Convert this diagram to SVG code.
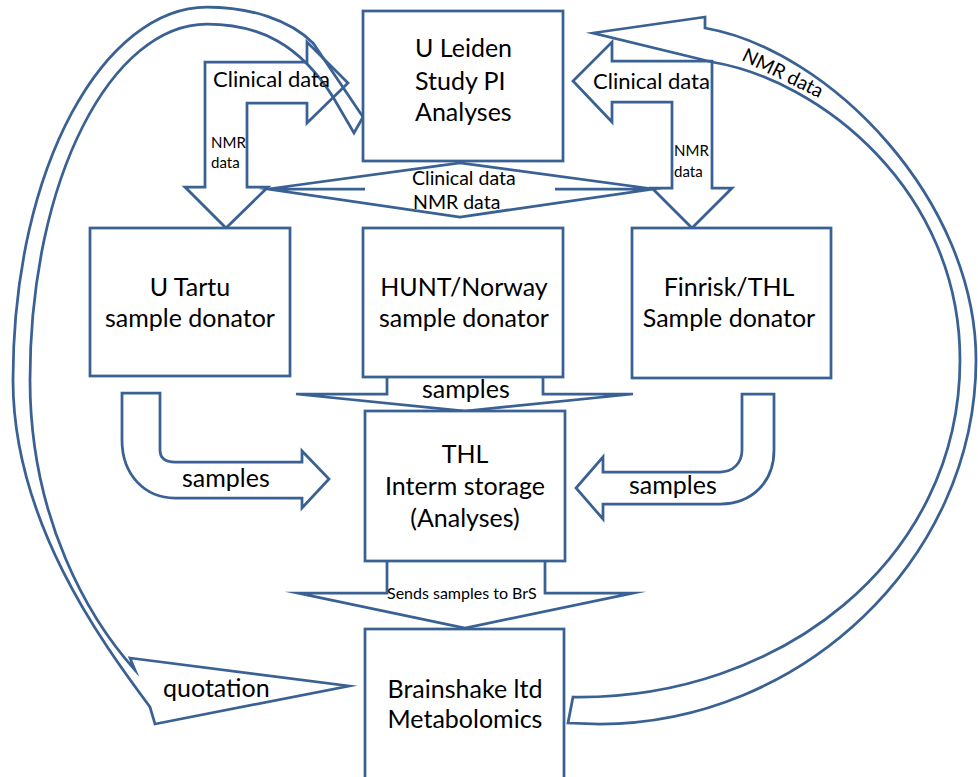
<svg xmlns="http://www.w3.org/2000/svg" width="978" height="777" viewBox="0 0 978 777">
<style>
.box{fill:#fff;stroke:#3A6193;stroke-width:2.75}
.arr{fill:none;stroke:#3A6193;stroke-width:2.75;stroke-linejoin:miter;stroke-miterlimit:10}
text{font-family:Lato,"Liberation Sans",sans-serif;fill:#000}
.lg{font-size:25px;text-anchor:middle}
.lab{font-size:25px}
.md{font-size:22px}
.cd{font-size:19.5px}
.sm{font-size:15px}
.ss{font-size:16px}
</style>
<rect width="978" height="777" fill="#fff"/>
<g id="connectors">
  <path id="quotation-arrow" class="arr" d="M130,658 L349,686 L155,724 L150,707 C100,640 13,520 13,380 C13,165 105,7 207,7 C250,7 290,20 313,43 L363,117 L354,133 L333,97 C300,45 260,24 207,24 C112,24 30,178 30,380 C30,520 90,620 135,670 Z"/>
  <path id="nmr-curve-arrow" class="arr" d="M593,33 L705,17 L705,28 C830,50 976,200 976,360 C976,560 800,724 600,724 L568,723 L573,697 C780,700 960,560 960,360 C960,190 820,80 712,62 Z"/>
  <path id="bent-left" class="arr" d="M205,62 L307,62 L307,42 L348,83 L307,123 L307,103 L247,103 L247,187 L268,187 L226,228 L185,187 L205,187 Z"/>
  <path id="bent-right" class="arr" d="M712,61 L612,61 L612,42 L573,81 L612,122 L612,102 L672,102 L672,188 L652,188 L692,228 L732,188 L712,188 Z"/>
  <path id="center-double" class="arr" d="M268,189 L460,163 L653,189 L460,217 Z M268,189 L365,189 M555,189 L653,189"/>
  <path id="samples-center" class="arr" d="M387,377 L387,394 L296,394 L465,411 L633,394 L543,394 L543,377"/>
  <path id="sends-arrow" class="arr" d="M387,561 L387,593 L298,593 L465,628 L633,593 L545,593 L545,561"/>
  <path id="samples-left" class="arr" d="M122,393 L160,393 L160,450 C160,458 165,462 175,462 L302,462 L302,451 L329,479 L302,508 L302,498 L175,498 C145,498 122,475 122,440 Z"/>
  <path id="samples-right" class="arr" d="M774,394 L742,394 L742,450 C742,463 733,472 720,472 L603,472 L603,457 L576,488 L603,519 L603,504 L720,504 C752,504 774,482 774,450 Z"/>
  <text class="md" x="213" y="87">Clinical data</text>
  <text class="sm" x="211" y="148">NMR</text>
  <text class="sm" x="211" y="168">data</text>
  <text class="md" x="593" y="89">Clinical data</text>
  <text class="sm" x="674" y="156">NMR</text>
  <text class="sm" x="674" y="177">data</text>
  <text class="cd" x="412" y="185">Clinical data</text>
  <text class="cd" x="413" y="209">NMR data</text>
  <text class="lab" x="422" y="398">samples</text>
  <text class="lab" x="182" y="487">samples</text>
  <text class="lab" x="629" y="494">samples</text>
  <text class="lab" x="163" y="697">quotation</text>
  <text class="ss" x="387" y="599">Sends samples to BrS</text>
  <text class="cd" x="780" y="79" text-anchor="middle" transform="rotate(26 780 79)">NMR data</text>
</g>
<g id="node-leiden">
  <rect class="box" x="363" y="11" width="200" height="150"/>
  <text class="lab" x="415" y="57">U Leiden</text>
  <text class="lab" x="415" y="90">Study PI</text>
  <text class="lab" x="415" y="121">Analyses</text>
</g>
<g id="node-tartu">
  <rect class="box" x="90" y="228" width="200" height="148"/>
  <text class="lg" x="190" y="296">U Tartu</text>
  <text class="lg" x="190" y="327">sample donator</text>
</g>
<g id="node-hunt">
  <rect class="box" x="363" y="228" width="200" height="149"/>
  <text class="lg" x="464" y="296">HUNT/Norway</text>
  <text class="lg" x="464" y="327">sample donator</text>
</g>
<g id="node-finrisk">
  <rect class="box" x="632" y="228" width="199" height="150"/>
  <text class="lg" x="729" y="296">Finrisk/THL</text>
  <text class="lg" x="729" y="327">Sample donator</text>
</g>
<g id="node-thl">
  <rect class="box" x="365" y="411" width="200" height="150"/>
  <text class="lg" x="465" y="463">THL</text>
  <text class="lg" x="465" y="495">Interm storage</text>
  <text class="lg" x="465" y="527">(Analyses)</text>
</g>
<g id="node-brainshake">
  <rect class="box" x="365" y="629" width="199" height="170"/>
  <text class="lg" x="465" y="698">Brainshake ltd</text>
  <text class="lg" x="465" y="728">Metabolomics</text>
</g>
</svg>
